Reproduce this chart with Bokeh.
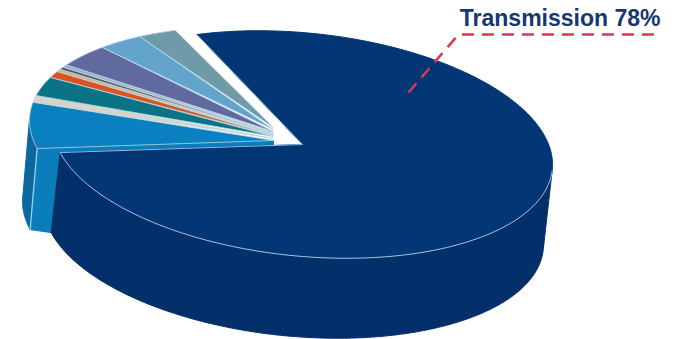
import numpy as np
from bokeh.embed import file_html
from bokeh.models import Range1d
from bokeh.plotting import figure
from bokeh.resources import INLINE

# Share of the total for each slice, clockwise after the main slice
MAIN_LABEL = "Transmission 78%"
MAIN_SHARE = 78.0
FAN_SHARES = [6.6, 1.0, 2.9, 1.0, 0.4, 0.4, 0.4, 3.7, 3.1, 2.6]
FAN_COLORS = ["#0a80c0", "#d8d4c6", "#0a7386", "#d9541e", "#dcae80", "#4e5c6c",
              "#a6aac8", "#616a9f", "#62a4cb", "#6f9aa8"]
FAN_APEX_DY = [2, 0, -2, -3, -4, -5, -6, -7, -9, -11]

# Projected pie: tilted ellipse with its wall extruded downward
RX, SHEAR, RY = 250.0, 20.0, 112.0
MAIN_C = np.array([302.0, 144.0])
FAN_C = np.array([279.0, 140.0])
FAN_APEX = np.array([273.0, 138.0])
MAIN_START = -115.0
DEPTH_MAIN = np.array([-9.0, 80.0])
DEPTH_BLUE = np.array([-7.0, 81.0])
EDGE = "#8fd4f0"


def rim(center, t0, t1, n=120):
    t = np.radians(np.linspace(t0, t1, n))
    return np.column_stack([center[0] + RX * np.cos(t),
                            center[1] + SHEAR * np.cos(t) + RY * np.sin(t)])


p = figure(width=674, height=339, output_backend="svg", toolbar_location=None,
           x_range=Range1d(0, 674), y_range=Range1d(339, 0), min_border=0,
           background_fill_color="white", border_fill_color="white",
           outline_line_color=None)
p.axis.visible = False
p.grid.visible = False


def poly(pts, fill, line=None, width=1.0):
    p.patch(pts[:, 0], pts[:, 1], fill_color=fill, line_color=line or fill, line_width=width)


main_end = MAIN_START + MAIN_SHARE * 3.6

# Side wall and radial face of the pulled-out blue slice; the wall stops at the silhouette
blue_rim = rim(FAN_C, main_end, 181.0, 40)
poly(np.vstack([blue_rim, (blue_rim + DEPTH_BLUE)[::-1]]), "#0a689f", "#0a689f")
corner = blue_rim[0]
apex_blue = FAN_APEX + np.array([0.0, FAN_APEX_DY[0]])
main_corner = rim(MAIN_C, main_end, main_end, 1)[0]
face = np.array([apex_blue, corner, corner + DEPTH_BLUE,
                 main_corner + DEPTH_MAIN, main_corner, FAN_APEX + np.array([0.0, 7.0])])
poly(face, "#0b7dbb", "#0b7dbb")
p.line(*np.array([corner, corner + DEPTH_BLUE]).T, line_color=EDGE, line_width=1.3)

# Thin slices of the fan, each with its own apex
angle = main_end
for share, color, dy in zip(FAN_SHARES, FAN_COLORS, FAN_APEX_DY):
    arc = rim(FAN_C, angle, angle + share * 3.6, 30)
    apex = FAN_APEX + np.array([0.0, dy])
    poly(np.vstack([apex, arc]), color, "#b8d4e4", 0.8)
    angle += share * 3.6

# Main slice: wall first, then the top face
wall_top = rim(MAIN_C, 3, main_end, 200)
poly(np.vstack([wall_top, (wall_top + DEPTH_MAIN)[::-1]]), "#03306a")
main_rim = rim(MAIN_C, MAIN_START, main_end, 300)
poly(np.vstack([MAIN_C, main_rim]), "#023674")
p.line(wall_top[:, 0], wall_top[:, 1], line_color="#a9c8e4", line_width=1.0)
for end in (main_rim[0], main_rim[-1]):
    p.line([MAIN_C[0], end[0]], [MAIN_C[1], end[1]], line_color="#8fb8e0", line_width=1.0)

# Callout
leader_x = [408, 458, 660]
leader_y = [92, 34, 34]
p.line(leader_x, leader_y, line_color="#d63a50", line_width=2.6, line_dash="12 8")
p.text([660], [17], text=[MAIN_LABEL], text_align="right", text_baseline="alphabetic",
       text_color="#16376f", text_font={"value": "Liberation Sans"}, text_font_style="bold",
       text_font_size="23px")

open("out.html", "w").write(file_html(p, INLINE))
